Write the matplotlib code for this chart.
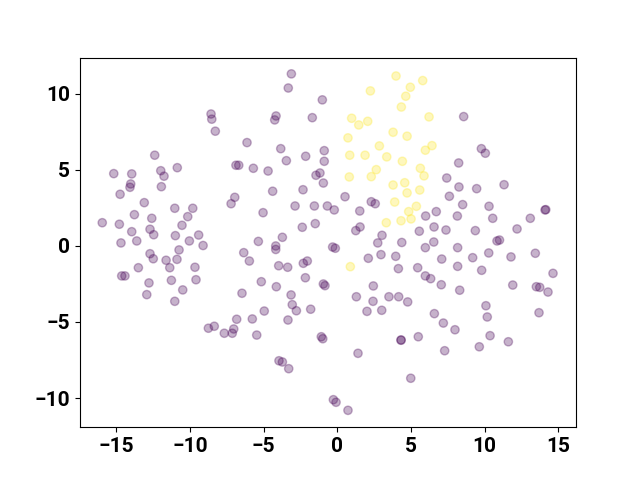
import matplotlib
matplotlib.use("Agg")
import matplotlib.pyplot as plt
import numpy as np

plt.rcParams['font.family'] = ['Roboto', 'DejaVu Sans']

# class 0 (purple) points
x0 = [-12.38, -15.16, -13.94, -11.97, -11.75, -10.85, -14.01, -14.06, -11.93, -14.73,
      -13.09, -11.02, -9.80, -13.76, -12.58, -10.14, -15.94, -14.78, -10.53, -13.94,
      -12.70, -12.45, -10.98, -9.40, -13.60, -14.67, -10.03, -9.10, -10.73, -12.70,
      -12.48, -11.61, -10.87, -13.49, -11.36, -9.65, -14.62, -14.40, -12.77, -11.25,
      -9.58, -10.48, -12.92, -11.02,
      -3.11, -3.32, -1.01, -8.56, -8.51, -4.15, -4.24, -1.69, -8.27, -6.12,
      -3.83, -0.88, -2.14, -3.45, -0.88, -6.87, -6.68, -5.69, -4.69, -1.17,
      -1.44, -0.94, -2.32, -4.38, -6.95, -7.20, -2.86, -1.55, -0.67, -5.03,
      -1.49, -2.37, -3.72, -5.35, -4.17, -4.17,
      -6.34, -5.96, -3.97, -3.36, -2.30, -2.03, -2.16, -5.15, -4.13, -0.94,
      -0.83, -6.46, -3.13, -3.05, -2.77, -1.80, -4.95, -6.82, -5.76, -3.34,
      -8.74, -8.34, -7.66, -7.12, -7.02, -5.46, -1.08, -0.98, -3.95, -3.72, -3.29,
      -0.31, -0.13, 2.75, 4.38, 5.98, 6.55, 8.17, 2.11, 2.97, 3.97,
      7.09, 4.15, 5.46, 5.98, 6.34, 7.06, 8.17, 2.45, 1.30, 3.51,
      4.17, 2.43, 4.78, 2.02, 3.02, 6.59, 7.20, 7.99, 4.33, 4.33,
      5.50, 1.41, 7.29, 4.99, -0.26, -0.08, 0.73,
      10.84, 11.01, 9.19, 10.28, 11.79, 13.44, 9.80, 14.64, 8.31, 11.91,
      13.51, 13.74, 14.30, 10.09, 10.18, 13.69, 10.37, 9.64, 11.61,
      8.58, 9.78, 10.05, 8.24, 8.26, 9.46, 11.32, 8.51, 10.30, 8.15,
      10.55, 13.10, 14.10, 14.15, 9.37, 12.20,
      7.43, 7.61, 0.53, -0.20, 2.31, 2.58, 1.53, 6.00, 6.72, 1.55,
      1.26, 3.04, 5.57, 6.57, 7.38]
y0 = [5.97, 4.76, 4.74, 4.95, 4.59, 5.15, 4.08, 3.86, 3.90, 3.40,
      2.85, 2.48, 2.48, 2.06, 1.82, 1.93, 1.53, 1.43, 1.36, 0.94,
      1.10, 0.74, 0.68, 0.72, 0.33, 0.20, 0.33, 0.03, -0.26, -0.51,
      -0.84, -0.94, -0.88, -1.43, -1.43, -1.40, -1.97, -1.97, -2.43, -2.26,
      -2.22, -2.89, -3.20, -3.64,
      11.32, 10.39, 9.61, 8.68, 8.34, 8.55, 8.29, 8.44, 7.55, 6.80,
      6.40, 6.27, 5.90, 5.61, 5.57, 5.31, 5.31, 5.11, 4.93, 4.80,
      4.65, 4.14, 3.70, 3.60, 3.20, 2.78, 2.63, 2.63, 2.63, 2.19,
      1.47, 1.23, 0.57, 0.30, 0.00, -0.23,
      -0.44, -0.99, -1.30, -1.40, -1.14, -0.99, -2.09, -2.35, -2.68, -2.50,
      -2.61, -3.11, -3.22, -3.86, -4.26, -4.16, -4.28, -4.82, -4.80, -4.87,
      -5.41, -5.28, -5.74, -5.74, -5.46, -5.86, -5.97, -6.10, -7.55, -7.63, -8.07,
      -0.07, -0.15, 0.20, 0.23, -0.11, 0.26, -0.11, -0.81, -0.57, -0.68,
      -0.86, -1.49, -1.43, -1.97, -2.15, -2.55, -1.34, -2.63, -3.34, -3.34,
      -3.34, -3.64, -3.68, -4.30, -4.23, -4.45, -5.07, -5.51, -6.18, -6.20,
      -5.97, -7.06, -6.89, -8.70, -10.11, -10.28, -10.81,
      0.33, 0.39, -0.77, -0.46, -0.72, -0.48, -1.60, -1.80, -2.91, -2.57,
      -2.68, -2.72, -3.03, -3.93, -4.67, -4.39, -5.90, -6.63, -6.30,
      8.51, 6.40, 6.10, 5.46, 3.88, 3.77, 4.03, 2.72, 2.61, 1.97,
      1.82, 1.82, 2.37, 2.39, 1.01, 1.12,
      4.47, 3.27, 3.24, 2.37, 2.91, 2.78, 2.30, 1.97, 2.26, 1.25,
      1.01, 0.70, 0.97, 1.25, 1.05]

# class 1 (yellow) points
x1 = [3.99, 5.80, 4.96, 2.25, 4.65, 4.35, 6.23, 0.98, 1.46, 2.07,
      3.79, 4.74, 0.73, 2.86, 6.43, 5.98, 0.85, 1.89, 3.36, 4.42,
      5.64, 2.65, 5.89, 0.82, 2.31, 3.79, 4.58, 4.74, 5.60, 3.90,
      5.37, 4.85, 5.01, 4.33, 3.33, 0.89]
y1 = [11.18, 10.88, 10.44, 10.20, 9.85, 9.14, 8.49, 8.40, 7.96, 8.20,
      7.48, 7.22, 7.11, 6.58, 6.60, 6.30, 5.97, 5.97, 5.86, 5.57,
      5.11, 5.02, 4.61, 4.54, 4.56, 4.01, 4.16, 3.49, 3.68, 2.89,
      2.61, 2.26, 1.78, 1.66, 1.53, -1.36]

xs = np.array(x0 + x1)
ys = np.array(y0 + y1)
labels = np.array([0] * len(x0) + [1] * len(x1))

fig, ax = plt.subplots(figsize=(6.4, 4.8), dpi=100)
ax.scatter(xs, ys, c=labels, cmap='viridis', alpha=0.3)
ax.set_xlim(-17.45, 16.2)
ax.set_ylim(-11.92, 12.39)
ax.set_xticks([-15, -10, -5, 0, 5, 10, 15])
ax.set_yticks([-10, -5, 0, 5, 10])
for lab in ax.get_xticklabels() + ax.get_yticklabels():
    lab.set_fontsize(15)
    lab.set_fontweight('bold')
fig.savefig('out.png', dpi=100)
